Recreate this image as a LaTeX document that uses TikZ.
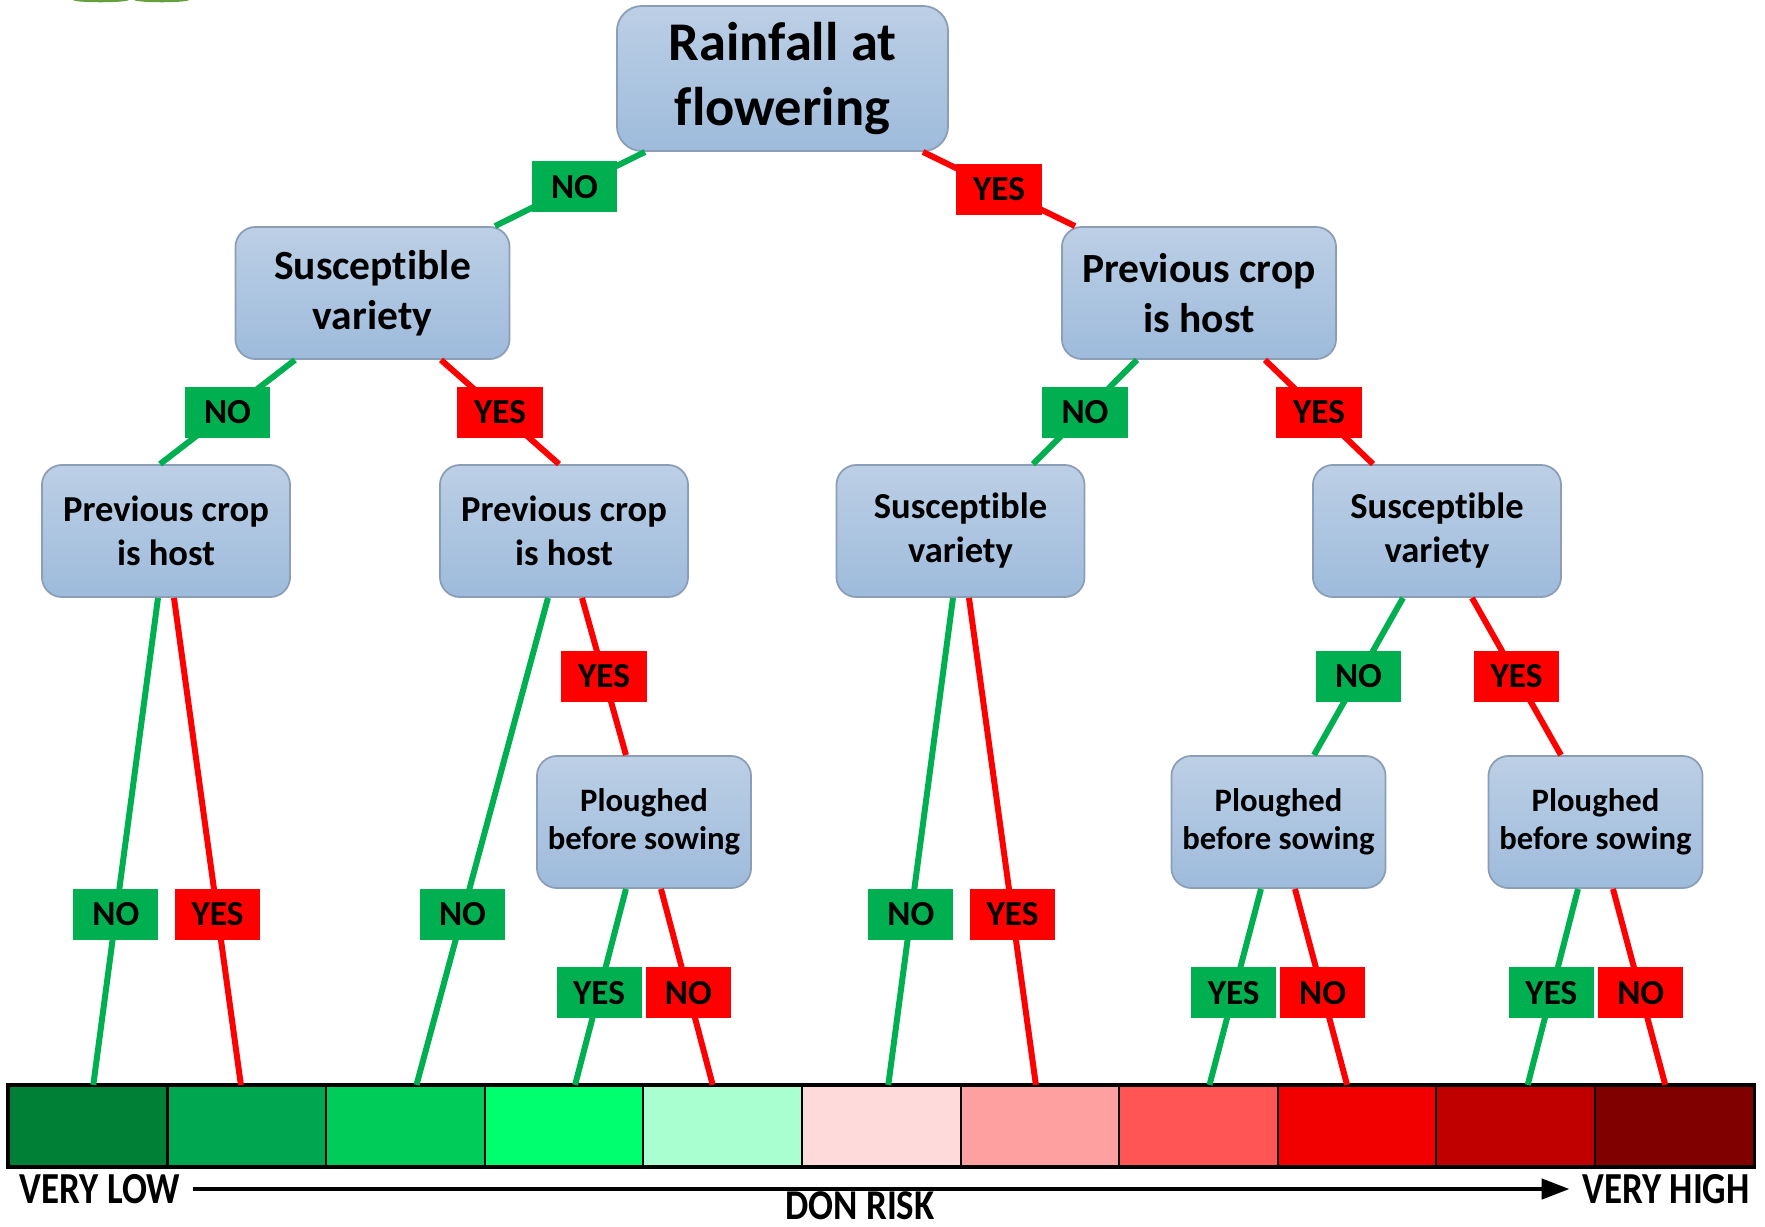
\documentclass[tikz,border=0pt]{standalone}
\usepackage{fontspec}
\usepackage{graphicx}
\setmainfont{Carlito}[Ligatures=NoCommon]
\usetikzlibrary{calc,arrows.meta}
\definecolor{gyes}{RGB}{0,176,80}
\definecolor{rno}{RGB}{255,0,0}
\definecolor{boxtop}{RGB}{188,207,229}
\definecolor{boxbot}{RGB}{158,187,220}
\definecolor{boxline}{RGB}{140,158,182}
\definecolor{leaf}{RGB}{100,160,60}
\definecolor{risk1}{RGB}{0,128,55}
\definecolor{risk2}{RGB}{0,166,80}
\definecolor{risk3}{RGB}{0,204,90}
\definecolor{risk4}{RGB}{0,255,110}
\definecolor{risk5}{RGB}{170,255,208}
\definecolor{risk6}{RGB}{255,218,218}
\definecolor{risk7}{RGB}{255,160,160}
\definecolor{risk8}{RGB}{255,85,85}
\definecolor{risk9}{RGB}{242,0,0}
\definecolor{risk10}{RGB}{192,0,0}
\definecolor{risk11}{RGB}{128,0,0}
\begin{document}
\begin{tikzpicture}[x=0.01cm, y=-0.01cm,
  qbox/.style={draw=boxline, line width=0.5pt, rounded corners=0.2cm, top color=boxtop, bottom color=boxbot, align=center, inner sep=0pt, minimum height=1.32cm},
  top/.style={minimum width=3.31cm, minimum height=1.45cm, rounded corners=0.25cm, font=\bfseries\fontsize{15.5}{18.5}\selectfont},
  lvtwo/.style={minimum width=2.74cm, font=\bfseries\fontsize{11.8}{14.2}\selectfont},
  lvthree/.style={minimum width=2.48cm, font=\bfseries\fontsize{10.4}{12.5}\selectfont},
  lvfour/.style={minimum width=2.14cm, font=\bfseries\fontsize{9.3}{10.8}\selectfont},
  gline/.style={draw=gyes, line width=1.7pt},
  rline/.style={draw=rno, line width=1.7pt},
  lab/.style={minimum width=0.85cm, minimum height=0.51cm, inner sep=0pt, font=\bfseries\fontsize{10}{10}\selectfont},
  glab/.style={lab, fill=gyes},
  rlab/.style={lab, fill=rno},
  cell/.style={draw=black, line width=0.6pt, minimum width=1.586cm, minimum height=0.8cm, inner sep=0pt},
  axis/.style={inner sep=0.12cm, font=\bfseries\fontsize{10.5}{10.5}\selectfont}]
\useasboundingbox (0,0) rectangle (1765,1226);
\fill [leaf] (73,0) .. controls (76,3) and (125,3) .. (129,0) -- cycle;
\fill [leaf] (134,0) .. controls (138,3) and (186,3) .. (189,0) -- cycle;

\node (rain) at (782.5,78.5) [qbox, top] {Rainfall at\\flowering};
\node (susc) at (372.5,293) [qbox, lvtwo] {Susceptible\\variety};
\node (prev) at (1199,293) [qbox, lvtwo] {Previous crop\\is host};
\node (prevA) at (166,531) [qbox, lvthree] {Previous crop\\is host};
\node (prevB) at (564,531) [qbox, lvthree] {Previous crop\\is host};
\node (suscC) at (960.5,531) [qbox, lvthree] {Susceptible\\variety};
\node (suscD) at (1437,531) [qbox, lvthree] {Susceptible\\variety};
\node (plouA) at (644,822) [qbox, lvfour] {Ploughed\\before sowing};
\node (plouB) at (1278.5,822) [qbox, lvfour] {Ploughed\\before sowing};
\node (plouC) at (1595.5,822) [qbox, lvfour] {Ploughed\\before sowing};

\foreach \c [count=\i] in {risk1,risk2,risk3,risk4,risk5,risk6,risk7,risk8,risk9,risk10,risk11}
  \node (c\i) at ({9+158.6*(\i-0.5)},1126) [cell, fill=\c] {};
\draw [line width=1pt] (c1.north west) rectangle (c11.south east);

\draw [gline] ($(rain.south)+(-137.5,0)$) -- node (r1) [glab, pos=0.47] {NO} ($(susc.north)+(122.5,0)$);
\draw [rline] ($(rain.south)+(140.5,0)$) -- node (r2) [rlab, pos=0.5] {YES} ($(prev.north)+(-124,0)$);
\draw [gline] ($(susc.south)+(-77.5,0)$) -- node (s1) [glab] {NO} ($(prevA.north)+(-6,0)$);
\draw [rline] ($(susc.south)+(68.5,0)$) -- node (s2) [rlab] {YES} ($(prevB.north)+(-5,0)$);
\draw [gline] ($(prev.south)+(-62,0)$) -- node (p1) [glab] {NO} ($(suscC.north)+(72.5,0)$);
\draw [rline] ($(prev.south)+(66,0)$) -- node (p2) [rlab] {YES} ($(suscD.north)+(-64,0)$);

\draw [gline] ($(prevA.south)+(-8,0)$) -- node (a1) [glab, pos=0.65] {NO} ($(c1.north)+(5,0)$);
\draw [rline] ($(prevA.south)+(8,0)$) -- node (a2) [rlab, pos=0.65] {YES} ($(c2.north)+(-6,0)$);
\draw [gline] ($(prevB.south)+(-16,0)$) -- node (b1) [glab, pos=0.65] {NO} ($(c3.north)+(11,0)$);
\draw [rline] ($(prevB.south)+(18,0)$) -- node (b2) [rlab] {YES} ($(plouA.north)+(-18,0)$);
\draw [gline] ($(suscC.south)+(-7.5,0)$) -- node (d1) [glab, pos=0.65] {NO} ($(c6.north)+(7,0)$);
\draw [rline] ($(suscC.south)+(8.5,0)$) -- node (d2) [rlab, pos=0.65] {YES} ($(c7.north)+(-4,0)$);
\draw [gline] ($(suscD.south)+(-34,0)$) -- node (e1) [glab] {NO} ($(plouB.north)+(35.5,0)$);
\draw [rline] ($(suscD.south)+(35,0)$) -- node (e2) [rlab] {YES} ($(plouC.north)+(-34.5,0)$);

\draw [gline] ($(plouA.south)+(-18,0)$) -- node (f1) [glab, pos=0.53] {YES} ($(c4.north)+(11,0)$);
\draw [rline] ($(plouA.south)+(17,0)$) -- node (f2) [rlab, pos=0.53] {NO} ($(c5.north)+(-10,0)$);
\draw [gline] ($(plouB.south)+(-17.5,0)$) -- node (g1) [glab, pos=0.53] {YES} ($(c8.north)+(11,0)$);
\draw [rline] ($(plouB.south)+(16.5,0)$) -- node (g2) [rlab, pos=0.53] {NO} ($(c9.north)+(-10,0)$);
\draw [gline] ($(plouC.south)+(-17.5,0)$) -- node (h1) [glab, pos=0.53] {YES} ($(c10.north)+(12,0)$);
\draw [rline] ($(plouC.south)+(17.5,0)$) -- node (h2) [rlab, pos=0.53] {NO} ($(c11.north)+(-9,0)$);

\node (low) at (100,1189) [axis] {\scalebox{1}[1.2]{VERY LOW}};
\node (high) at (1666,1189) [axis] {\scalebox{1}[1.2]{VERY HIGH}};
\node (don) at (860,1206) [axis] {\scalebox{1}[1.15]{DON RISK}};
\draw [line width=1.3pt, -{Triangle[length=0.28cm, width=0.2cm]}] (low.east) -- (high.west);
\end{tikzpicture}
\end{document}
